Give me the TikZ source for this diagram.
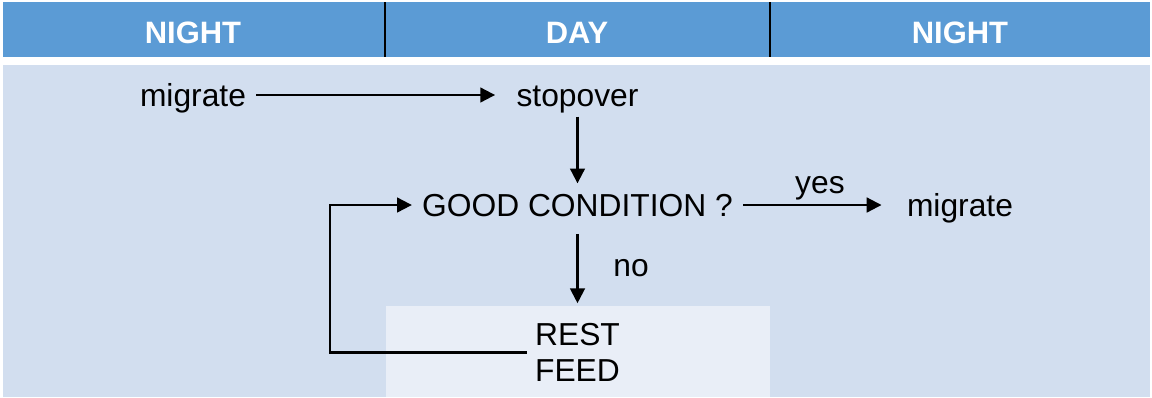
\documentclass[tikz,border=0pt]{standalone}
\usepackage{fontspec}
\setmainfont{Liberation Sans}
\usetikzlibrary{arrows.meta}

\definecolor{headblue}{HTML}{5B9BD5}
\definecolor{paleblue}{HTML}{D2DEEF}
\definecolor{boxblue}{HTML}{E9EEF7}

\begin{document}
\begin{tikzpicture}[x=0.025cm, y=-0.025cm]

\tikzset{txt/.style={font=\fontsize{22.6}{25.5}\selectfont, text height=0.57cm, text depth=0pt, inner sep=0.25cm}}
\tikzset{headtxt/.style={txt, text=white, font=\fontsize{22}{25}\selectfont\bfseries}}
\tikzset{restbox/.style={font=\fontsize{22.6}{25.5}\selectfont, align=left, inner xsep=0.2cm, inner ysep=0.5cm}}
\tikzset{flow/.style={-{Triangle[length=0.37cm, width=0.37cm]}, line width=1.5pt}}
\tikzset{divider/.style={line width=2.1pt}}

\useasboundingbox (0, 0) rectangle (1152, 397);

% background bands
\fill[headblue] (3, 2) rectangle (1150, 57);
\fill[paleblue] (3, 65) rectangle (1150, 397);
\fill[boxblue] (386, 306) rectangle (770, 397);
\draw[divider] (385, 2) -- (385, 57);
\draw[divider] (770, 2) -- (770, 57);

% night, day, night
\node[headtxt] at (193, 32) (night1) {NIGHT};
\node[headtxt] at (577, 32) (day) {DAY};
\node[headtxt] at (960, 32) (night2) {NIGHT};

% steps
\node[txt] at (193, 95) (mig1) {migrate};
\node[txt] at (577.5, 95) (stop) {stopover};
\node[txt] at (577.5, 205) (cond) {GOOD CONDITION ?};
\node[txt] at (960, 205) (mig2) {migrate};
\node[restbox] at (577.5, 352.5) (rest) {REST\\FEED};
\coordinate (turn) at (330, 352.5);

% transitions
\draw[flow, shorten >=0.28cm] (mig1) -- (stop);
\draw[flow] (stop) -- (cond);
\draw[flow, shorten >=0.38cm] (cond) -- (mig2) node[txt, midway, above] (yes) {yes};
\draw[flow, shorten <=0.18cm] (cond) -- (rest) node[txt, midway, right=0.62cm] (no) {no};
\draw[flow] (rest.west) -- (turn) |- (cond.west);

\end{tikzpicture}
\end{document}
